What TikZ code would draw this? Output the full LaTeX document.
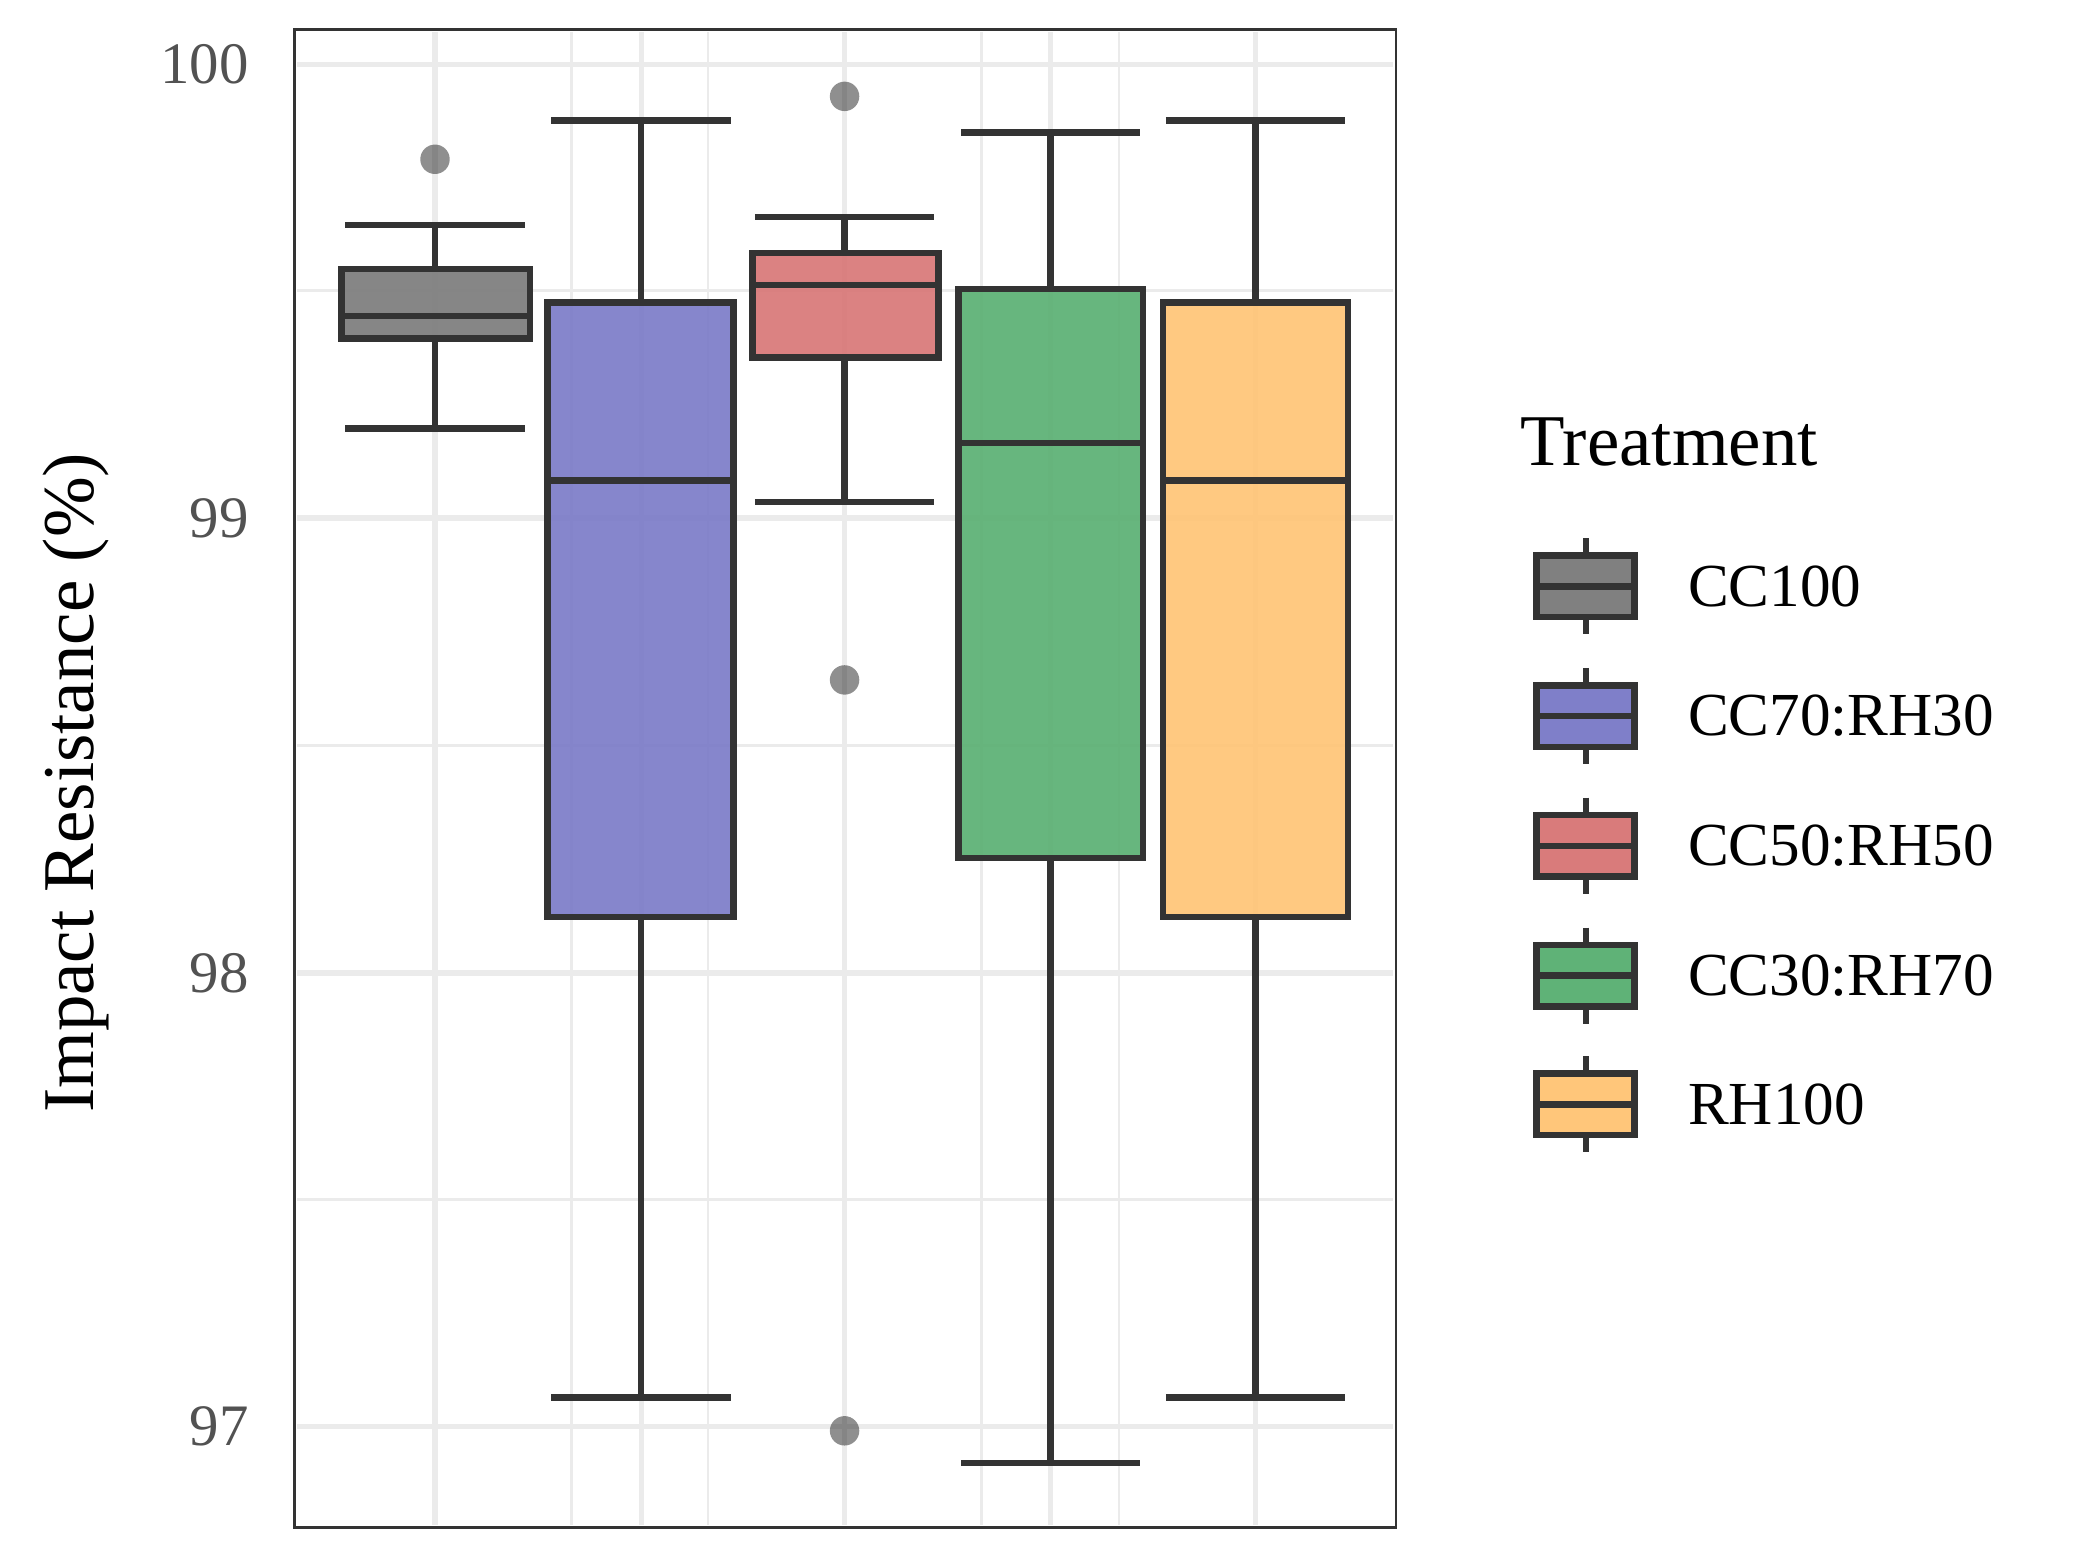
\documentclass[tikz,border=0pt]{standalone}
\usepackage{fontspec}
\setmainfont{Liberation Serif}
\definecolor{ln}{HTML}{333333}
\definecolor{gr}{HTML}{EBEBEB}
\definecolor{cA}{HTML}{808080}
\definecolor{cB}{HTML}{7F7FC9}
\definecolor{cC}{HTML}{D97B7B}
\definecolor{cD}{HTML}{5FB277}
\definecolor{cE}{HTML}{FFC67A}
\begin{document}
\begin{tikzpicture}[x=0.02cm,y=-0.02cm,
  grid/.style={gr,line width=2.2pt},
  mgrid/.style={gr,line width=1.2pt},
  bx/.style={draw=ln,line width=2.8pt},
  wk/.style={ln,line width=2.8pt},
  outl/.style={circle,fill=ln,fill opacity=0.55,inner sep=0pt,minimum size=0.44cm},
  tick/.style={font=\fontsize{25}{25}\selectfont,text=ln!85,anchor=east},
  lab/.style={font=\fontsize{26}{26}\selectfont,anchor=west}]
\useasboundingbox (0,0) rectangle (1560,1158);
% grid
\foreach \y in {217,557,896} \draw[mgrid] (222,\y) -- (1041,\y);
\foreach \x in {427,529,733,836} \draw[mgrid] (\x,24) -- (\x,1139);
\foreach \y in {48,387,727,1066} \draw[grid] (222,\y) -- (1041,\y);
\foreach \x in {325,479,631,785,938} \draw[grid] (\x,24) -- (\x,1139);
% boxes
\foreach \xc/\lo/\hi/\wt/\qt/\md/\qb/\wb/\c in {
 325/255/396/168/201/236/253/320/cA,
 479/409/548/90/226/359/685/1044/cB,
 631/562/701/162/189/213/267/375/cC,
 785/716/854/99/216/331/641/1093/cD,
 938/869/1007/90/226/359/685/1044/cE}{
  \draw[wk] (\xc,\wt) -- (\xc,\qt) (\xc,\qb) -- (\xc,\wb);
  \draw[wk] (\xc-67,\wt) -- (\xc+67,\wt) (\xc-67,\wb) -- (\xc+67,\wb);
  \fill[\c,opacity=0.95] (\lo,\qt) rectangle (\hi,\qb);
  \draw[bx] (\lo,\qt) rectangle (\hi,\qb);
  \draw[wk] (\lo,\md) -- (\hi,\md);
}
\node[outl] (o1) at (325,119) {};
\node[outl] (o2) at (631,72) {};
\node[outl] (o3) at (631,508) {};
\node[outl] (o4) at (631,1069) {};
% panel
\draw[ln,line width=1.2pt] (220,22) rectangle (1043,1141);
% ticks
\foreach \y/\t in {48/100,387/99,727/98,1066/97} \node[tick] at (192,\y) {\t};
\node[rotate=90,font=\fontsize{31}{31}\selectfont] (yl) at (57,585) {Impact Resistance (\%)};
% legend
\node[anchor=west,font=\fontsize{31}{31}\selectfont] (lt) at (1130,330) {Treatment};
\foreach \y/\c/\t in {438/cA/CC100,535/cB/CC70:RH30,632/cC/CC50:RH50,729/cD/CC30:RH70,825/cE/RH100}{
  \draw[wk] (1185,\y-36) -- (1185,\y+36);
  \fill[\c] (1148,\y-23) rectangle (1221,\y+23);
  \draw[bx] (1148,\y-23) rectangle (1221,\y+23);
  \draw[wk] (1148,\y) -- (1221,\y);
  \node[lab] at (1255,\y) {\t};
}
\end{tikzpicture}
\end{document}
